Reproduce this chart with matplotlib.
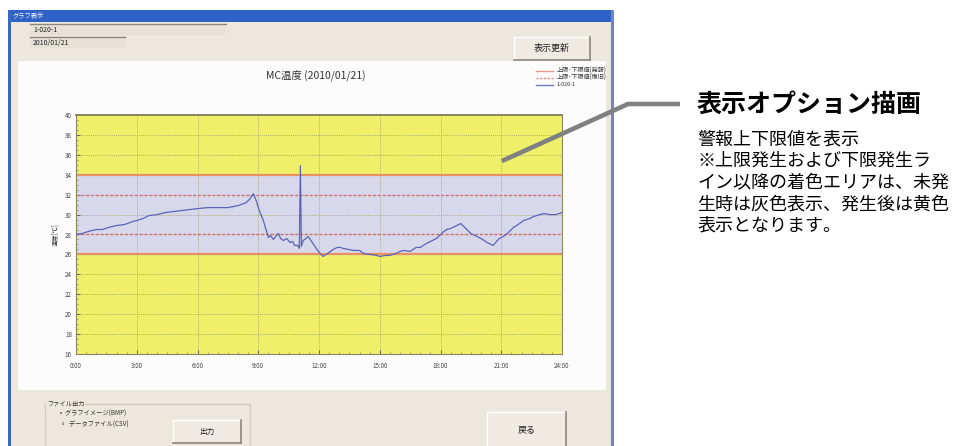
import matplotlib
matplotlib.use("Agg")
import matplotlib.pyplot as plt
from matplotlib.patches import Rectangle
from matplotlib.lines import Line2D
from matplotlib.ticker import MultipleLocator

plt.rcParams['font.family'] = ['Noto Sans CJK JP', 'DejaVu Sans']

# ---------------- data ----------------
hours = [0.0, 0.3, 0.6, 1.0, 1.3, 1.6, 2.0, 2.4, 2.8, 3.0, 3.3, 3.6, 4.0, 4.4, 4.8,
         5.2, 5.6, 6.0, 6.5, 7.0, 7.5, 8.0, 8.4, 8.6, 8.76, 8.9, 9.05, 9.25, 9.5,
         9.6, 9.75, 9.9, 10.0, 10.1, 10.25, 10.4, 10.57, 10.7, 10.8, 10.95, 11.03,
         11.08, 11.13, 11.22, 11.35, 11.47, 11.6, 11.7, 11.9, 12.05, 12.2, 12.35,
         12.5, 12.7, 12.9, 13.05, 13.2, 13.45, 13.7, 14.0, 14.2, 14.5, 14.85, 15.0,
         15.3, 15.5, 15.8, 16.0, 16.2, 16.5, 16.8, 17.0, 17.3, 17.6, 17.8, 18.1,
         18.3, 18.5, 18.8, 19.0, 19.1, 19.3, 19.5, 19.8, 20.0, 20.3, 20.6, 20.9,
         21.1, 21.3, 21.6, 21.9, 22.1, 22.4, 22.6, 22.9, 23.1, 23.4, 23.7, 24.0]
temps = [28.0, 28.1, 28.3, 28.5, 28.5, 28.7, 28.9, 29.0, 29.3, 29.4, 29.6, 29.9, 30.0,
         30.2, 30.3, 30.4, 30.5, 30.6, 30.7, 30.7, 30.7, 30.9, 31.2, 31.6, 32.1, 31.4,
         30.4, 29.4, 27.7, 27.9, 27.5, 27.9, 28.1, 27.6, 27.4, 27.6, 27.2, 27.3, 26.9,
         26.9, 26.6, 34.9, 26.8, 27.4, 27.6, 27.8, 27.4, 27.1, 26.5, 26.1, 25.8, 26.0,
         26.2, 26.5, 26.7, 26.7, 26.6, 26.5, 26.4, 26.4, 26.1, 26.0, 25.9, 25.8, 25.9,
         25.9, 26.1, 26.3, 26.4, 26.3, 26.7, 26.7, 27.1, 27.4, 27.6, 28.2, 28.5, 28.6,
         28.9, 29.1, 28.9, 28.5, 28.1, 27.8, 27.6, 27.2, 26.9, 27.6, 27.8, 28.1, 28.7,
         29.1, 29.4, 29.6, 29.8, 30.0, 30.1, 30.0, 30.0, 30.2]

alarm_limits = [26, 34]        # 上限・下限値(発報)
recover_limits = [28, 32]      # 上限・下限値(復旧)
y_min, y_max = 16, 40
x_ticks = [0, 3, 6, 9, 12, 15, 18, 21, 24]
x_labels = ["0:00", "3:00", "6:00", "9:00", "12:00", "15:00", "18:00", "21:00", "24:00"]
y_ticks = list(range(16, 41, 2))

series_name = "1-020-1"
chart_title = "MC温度 (2010/01/21)"
legend_labels = ["上限･下限値(発報)", "上限･下限値(復旧)", series_name]

# ---------------- figure ----------------
W, H = 959, 446
fig = plt.figure(figsize=(W / 100, H / 100), dpi=100)
fig.patch.set_facecolor("white")

bg = fig.add_axes([0, 0, 1, 1])
bg.set_xlim(0, W)
bg.set_ylim(H, 0)
bg.axis("off")

win_face = "#ECE8DE"


def rect(x0, y0, x1, y1, fc, ec="none", lw=0, z=1):
    bg.add_patch(Rectangle((x0, y0), x1 - x0, y1 - y0, facecolor=fc,
                           edgecolor=ec, linewidth=lw, zorder=z))


def button(x0, y0, x1, y1, label, fs=6):
    rect(x0, y0, x1, y1, "#EFEBE3", z=3)
    bg.plot([x0, x1], [y0, y0], color="white", lw=1, zorder=4)
    bg.plot([x0, x0], [y0, y1], color="white", lw=1, zorder=4)
    bg.plot([x1, x1], [y0, y1], color="#8C877C", lw=1.2, zorder=4)
    bg.plot([x0, x1], [y1, y1], color="#8C877C", lw=1.2, zorder=4)
    bg.text((x0 + x1) / 2, (y0 + y1) / 2, label, fontsize=fs, ha="center",
            va="center", color="#222222", zorder=5)


# window body
rect(8, 10, 614, H, win_face, z=1)
rect(8, 10, 614, 22, "#2F62C6", z=2)
rect(8, 10, 10.5, H, "#3A66C4", z=2)
rect(611, 10, 614, H, "#6E86C8", z=2)
bg.text(13, 16, "グラフ表示", fontsize=4.5, color="white", va="center", zorder=3)

# header fields
rect(30, 24, 226, 35, "#E6E2D8", z=2)
bg.plot([30, 226], [24, 24], color="#8C877C", lw=1, zorder=3)
bg.text(33, 29.5, series_name, fontsize=5, va="center", color="#222222", zorder=3)
rect(30, 37, 125, 48, "#E6E2D8", z=2)
bg.plot([30, 125], [37, 37], color="#8C877C", lw=1, zorder=3)
bg.text(33, 43, "2010/01/21", fontsize=5, va="center", color="#222222", zorder=3)
button(514, 37, 590, 60, "表示更新", fs=6.5)

# white chart panel
rect(18, 61, 606, 390, "#FCFCFC", z=2)

# chart title & legend
bg.text(316, 75, chart_title, fontsize=7.5, ha="center", va="center",
        color="#333333", zorder=3)
legend_styles = [dict(color="#E89A8A", ls="-"), dict(color="#E08080", ls=(0, (1.5, 1.2))),
                 dict(color="#6C7CC0", ls="-")]
for i, (lab, st) in enumerate(zip(legend_labels, legend_styles)):
    yy = 71 + i * 7
    bg.add_line(Line2D([536, 553], [yy, yy], lw=1.0, zorder=3, **st))
    bg.text(557, yy, lab, fontsize=4.4 if i < 2 else 4.0, va="center",
            color="#333333", zorder=3)

# bottom controls
bg.plot([45, 250, 250], [404, 404, H], color="#CFCAC0", lw=1, zorder=3)
bg.plot([45, 45], [404, H], color="#CFCAC0", lw=1, zorder=3)
bg.text(47, 404, "ファイル出力", fontsize=4.5, va="center", color="#333333",
        zorder=4, bbox=dict(fc=win_face, ec="none", pad=0.5))
bg.text(60, 414, "•  グラフイメージ(BMP)", fontsize=4.5, va="center", color="#333333", zorder=4)
bg.text(60, 425, "◦  データファイル(CSV)", fontsize=4.5, va="center", color="#333333", zorder=4)
button(173, 420, 241, 443, "出力", fs=5.5)
button(487, 412, 566, 447, "戻る", fs=6.5)

# ---------------- chart axes ----------------
ax_l, ax_r, ax_t, ax_b = 76, 562, 115, 354
ax = fig.add_axes([ax_l / W, 1 - ax_b / H, (ax_r - ax_l) / W, (ax_b - ax_t) / H])
ax.set_zorder(5)
ax.set_xlim(0, 24)
ax.set_ylim(y_min, y_max)
ax.set_facecolor("#EFEF6A")

ax.axhspan(alarm_limits[0], alarm_limits[1], color="#D8D8EC", zorder=0)
ax.grid(True, which="major", color="#9C9A62", ls=(0, (1, 1.5)), lw=0.6, zorder=1)
for v in alarm_limits:
    ax.axhline(v, color="#E89060", lw=1.6, zorder=2)
for v in recover_limits:
    ax.axhline(v, color="#D86A6A", lw=1.0, ls=(0, (2, 1.5)), zorder=2)
ax.plot(hours, temps, color="#5A64B4", lw=0.9, zorder=3)

ax.set_xticks(x_ticks)
ax.set_xticklabels(x_labels)
ax.set_yticks(y_ticks)
ax.xaxis.set_minor_locator(MultipleLocator(0.5))
ax.yaxis.set_minor_locator(MultipleLocator(0.5))
ax.tick_params(axis="both", which="major", labelsize=4.5, colors="#555555",
               length=3, direction="in", width=0.6, labelcolor="#444444")
ax.tick_params(axis="both", which="minor", length=1.5, direction="in", width=0.4,
               colors="#666666")
ax.tick_params(axis="x", pad=6)
ax.tick_params(axis="y", pad=3)
ax.set_ylabel("温度[℃]", fontsize=4.5, color="#333333", labelpad=4)
for s in ax.spines.values():
    s.set_color("#8A8660")
    s.set_linewidth(0.8)
ax.spines["top"].set_linewidth(1.4)

# ---------------- overlay: leader line and annotation ----------------
ov = fig.add_axes([0, 0, 1, 1])
ov.set_zorder(10)
ov.patch.set_alpha(0)
ov.set_xlim(0, W)
ov.set_ylim(H, 0)
ov.axis("off")
ov.plot([502, 628, 680], [161, 104, 104], color="#808080", lw=3.3,
        solid_capstyle="butt", solid_joinstyle="miter")
ov.text(697, 105, "表示オプション描画", fontsize=18, fontweight="bold",
        va="center", ha="left", color="black")
body = ["警報上下限値を表示",
        "※上限発生および下限発生ラ",
        "イン以降の着色エリアは、未発",
        "生時は灰色表示、発生後は黄色",
        "表示となります。"]
for i, line in enumerate(body):
    ov.text(697, 139 + i * 21.7, line, fontsize=13.0, va="center", ha="left",
            color="black")

fig.savefig("out.png", dpi=100)
